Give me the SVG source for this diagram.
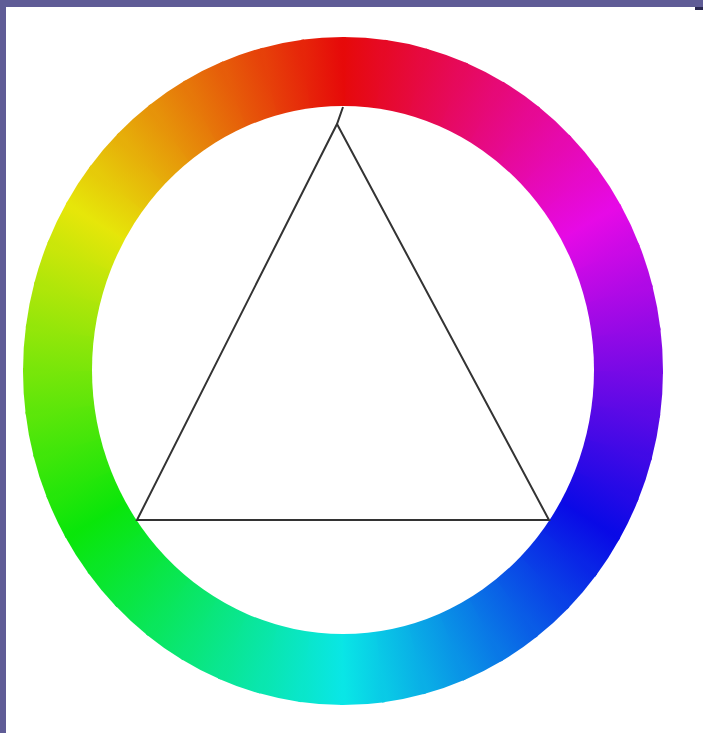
<svg xmlns="http://www.w3.org/2000/svg" width="703" height="733" viewBox="0 0 703 733">
<style>
.frame{fill:#5f5c96}
.edge{fill:none;stroke:#333;stroke-width:2;stroke-linejoin:miter}
</style>
<defs>
<path id="w" d="M0 0L0 -1A1 1 0 0 1 0.139173 -0.990268Z"/>
<linearGradient id="g0" gradientUnits="userSpaceOnUse" x1="0" y1="-0.895" x2="0.116821" y2="-0.887343"><stop offset="0" stop-color="hsl(360,92%,47%)"/><stop offset="1" stop-color="hsl(352.5,92%,47%)"/></linearGradient>
<linearGradient id="g1" gradientUnits="userSpaceOnUse" x1="0" y1="-0.895" x2="0.116821" y2="-0.887343"><stop offset="0" stop-color="hsl(352.5,92%,47%)"/><stop offset="1" stop-color="hsl(345,92%,47%)"/></linearGradient>
<linearGradient id="g2" gradientUnits="userSpaceOnUse" x1="0" y1="-0.895" x2="0.116821" y2="-0.887343"><stop offset="0" stop-color="hsl(345,92%,47%)"/><stop offset="1" stop-color="hsl(337.5,92%,47%)"/></linearGradient>
<linearGradient id="g3" gradientUnits="userSpaceOnUse" x1="0" y1="-0.895" x2="0.116821" y2="-0.887343"><stop offset="0" stop-color="hsl(337.5,92%,47%)"/><stop offset="1" stop-color="hsl(330,92%,47%)"/></linearGradient>
<linearGradient id="g4" gradientUnits="userSpaceOnUse" x1="0" y1="-0.895" x2="0.116821" y2="-0.887343"><stop offset="0" stop-color="hsl(330,92%,47%)"/><stop offset="1" stop-color="hsl(322.5,92%,47%)"/></linearGradient>
<linearGradient id="g5" gradientUnits="userSpaceOnUse" x1="0" y1="-0.895" x2="0.116821" y2="-0.887343"><stop offset="0" stop-color="hsl(322.5,92%,47%)"/><stop offset="1" stop-color="hsl(315,92%,47%)"/></linearGradient>
<linearGradient id="g6" gradientUnits="userSpaceOnUse" x1="0" y1="-0.895" x2="0.116821" y2="-0.887343"><stop offset="0" stop-color="hsl(315,92%,47%)"/><stop offset="1" stop-color="hsl(307.5,92%,47%)"/></linearGradient>
<linearGradient id="g7" gradientUnits="userSpaceOnUse" x1="0" y1="-0.895" x2="0.116821" y2="-0.887343"><stop offset="0" stop-color="hsl(307.5,92%,47%)"/><stop offset="1" stop-color="hsl(300,92%,47%)"/></linearGradient>
<linearGradient id="g8" gradientUnits="userSpaceOnUse" x1="0" y1="-0.895" x2="0.116821" y2="-0.887343"><stop offset="0" stop-color="hsl(300,92%,47%)"/><stop offset="1" stop-color="hsl(292.5,92%,47%)"/></linearGradient>
<linearGradient id="g9" gradientUnits="userSpaceOnUse" x1="0" y1="-0.895" x2="0.116821" y2="-0.887343"><stop offset="0" stop-color="hsl(292.5,92%,47%)"/><stop offset="1" stop-color="hsl(285,92%,47%)"/></linearGradient>
<linearGradient id="g10" gradientUnits="userSpaceOnUse" x1="0" y1="-0.895" x2="0.116821" y2="-0.887343"><stop offset="0" stop-color="hsl(285,92%,47%)"/><stop offset="1" stop-color="hsl(277.5,92%,47%)"/></linearGradient>
<linearGradient id="g11" gradientUnits="userSpaceOnUse" x1="0" y1="-0.895" x2="0.116821" y2="-0.887343"><stop offset="0" stop-color="hsl(277.5,92%,47%)"/><stop offset="1" stop-color="hsl(270,92%,47%)"/></linearGradient>
<linearGradient id="g12" gradientUnits="userSpaceOnUse" x1="0" y1="-0.895" x2="0.116821" y2="-0.887343"><stop offset="0" stop-color="hsl(270,92%,47%)"/><stop offset="1" stop-color="hsl(262.5,92%,47%)"/></linearGradient>
<linearGradient id="g13" gradientUnits="userSpaceOnUse" x1="0" y1="-0.895" x2="0.116821" y2="-0.887343"><stop offset="0" stop-color="hsl(262.5,92%,47%)"/><stop offset="1" stop-color="hsl(255,92%,47%)"/></linearGradient>
<linearGradient id="g14" gradientUnits="userSpaceOnUse" x1="0" y1="-0.895" x2="0.116821" y2="-0.887343"><stop offset="0" stop-color="hsl(255,92%,47%)"/><stop offset="1" stop-color="hsl(247.5,92%,47%)"/></linearGradient>
<linearGradient id="g15" gradientUnits="userSpaceOnUse" x1="0" y1="-0.895" x2="0.116821" y2="-0.887343"><stop offset="0" stop-color="hsl(247.5,92%,47%)"/><stop offset="1" stop-color="hsl(240,92%,47%)"/></linearGradient>
<linearGradient id="g16" gradientUnits="userSpaceOnUse" x1="0" y1="-0.895" x2="0.116821" y2="-0.887343"><stop offset="0" stop-color="hsl(240,92%,47%)"/><stop offset="1" stop-color="hsl(232.5,92%,47%)"/></linearGradient>
<linearGradient id="g17" gradientUnits="userSpaceOnUse" x1="0" y1="-0.895" x2="0.116821" y2="-0.887343"><stop offset="0" stop-color="hsl(232.5,92%,47%)"/><stop offset="1" stop-color="hsl(225,92%,47%)"/></linearGradient>
<linearGradient id="g18" gradientUnits="userSpaceOnUse" x1="0" y1="-0.895" x2="0.116821" y2="-0.887343"><stop offset="0" stop-color="hsl(225,92%,47%)"/><stop offset="1" stop-color="hsl(217.5,92%,47%)"/></linearGradient>
<linearGradient id="g19" gradientUnits="userSpaceOnUse" x1="0" y1="-0.895" x2="0.116821" y2="-0.887343"><stop offset="0" stop-color="hsl(217.5,92%,47%)"/><stop offset="1" stop-color="hsl(210,92%,47%)"/></linearGradient>
<linearGradient id="g20" gradientUnits="userSpaceOnUse" x1="0" y1="-0.895" x2="0.116821" y2="-0.887343"><stop offset="0" stop-color="hsl(210,92%,47%)"/><stop offset="1" stop-color="hsl(202.5,92%,47%)"/></linearGradient>
<linearGradient id="g21" gradientUnits="userSpaceOnUse" x1="0" y1="-0.895" x2="0.116821" y2="-0.887343"><stop offset="0" stop-color="hsl(202.5,92%,47%)"/><stop offset="1" stop-color="hsl(195,92%,47%)"/></linearGradient>
<linearGradient id="g22" gradientUnits="userSpaceOnUse" x1="0" y1="-0.895" x2="0.116821" y2="-0.887343"><stop offset="0" stop-color="hsl(195,92%,47%)"/><stop offset="1" stop-color="hsl(187.5,92%,47%)"/></linearGradient>
<linearGradient id="g23" gradientUnits="userSpaceOnUse" x1="0" y1="-0.895" x2="0.116821" y2="-0.887343"><stop offset="0" stop-color="hsl(187.5,92%,47%)"/><stop offset="1" stop-color="hsl(180,92%,47%)"/></linearGradient>
<linearGradient id="g24" gradientUnits="userSpaceOnUse" x1="0" y1="-0.895" x2="0.116821" y2="-0.887343"><stop offset="0" stop-color="hsl(180,92%,47%)"/><stop offset="1" stop-color="hsl(172.5,92%,47%)"/></linearGradient>
<linearGradient id="g25" gradientUnits="userSpaceOnUse" x1="0" y1="-0.895" x2="0.116821" y2="-0.887343"><stop offset="0" stop-color="hsl(172.5,92%,47%)"/><stop offset="1" stop-color="hsl(165,92%,47%)"/></linearGradient>
<linearGradient id="g26" gradientUnits="userSpaceOnUse" x1="0" y1="-0.895" x2="0.116821" y2="-0.887343"><stop offset="0" stop-color="hsl(165,92%,47%)"/><stop offset="1" stop-color="hsl(157.5,92%,47%)"/></linearGradient>
<linearGradient id="g27" gradientUnits="userSpaceOnUse" x1="0" y1="-0.895" x2="0.116821" y2="-0.887343"><stop offset="0" stop-color="hsl(157.5,92%,47%)"/><stop offset="1" stop-color="hsl(150,92%,47%)"/></linearGradient>
<linearGradient id="g28" gradientUnits="userSpaceOnUse" x1="0" y1="-0.895" x2="0.116821" y2="-0.887343"><stop offset="0" stop-color="hsl(150,92%,47%)"/><stop offset="1" stop-color="hsl(142.5,92%,47%)"/></linearGradient>
<linearGradient id="g29" gradientUnits="userSpaceOnUse" x1="0" y1="-0.895" x2="0.116821" y2="-0.887343"><stop offset="0" stop-color="hsl(142.5,92%,47%)"/><stop offset="1" stop-color="hsl(135,92%,47%)"/></linearGradient>
<linearGradient id="g30" gradientUnits="userSpaceOnUse" x1="0" y1="-0.895" x2="0.116821" y2="-0.887343"><stop offset="0" stop-color="hsl(135,92%,47%)"/><stop offset="1" stop-color="hsl(127.5,92%,47%)"/></linearGradient>
<linearGradient id="g31" gradientUnits="userSpaceOnUse" x1="0" y1="-0.895" x2="0.116821" y2="-0.887343"><stop offset="0" stop-color="hsl(127.5,92%,47%)"/><stop offset="1" stop-color="hsl(120,92%,47%)"/></linearGradient>
<linearGradient id="g32" gradientUnits="userSpaceOnUse" x1="0" y1="-0.895" x2="0.116821" y2="-0.887343"><stop offset="0" stop-color="hsl(120,92%,47%)"/><stop offset="1" stop-color="hsl(112.5,92%,47%)"/></linearGradient>
<linearGradient id="g33" gradientUnits="userSpaceOnUse" x1="0" y1="-0.895" x2="0.116821" y2="-0.887343"><stop offset="0" stop-color="hsl(112.5,92%,47%)"/><stop offset="1" stop-color="hsl(105,92%,47%)"/></linearGradient>
<linearGradient id="g34" gradientUnits="userSpaceOnUse" x1="0" y1="-0.895" x2="0.116821" y2="-0.887343"><stop offset="0" stop-color="hsl(105,92%,47%)"/><stop offset="1" stop-color="hsl(97.5,92%,47%)"/></linearGradient>
<linearGradient id="g35" gradientUnits="userSpaceOnUse" x1="0" y1="-0.895" x2="0.116821" y2="-0.887343"><stop offset="0" stop-color="hsl(97.5,92%,47%)"/><stop offset="1" stop-color="hsl(90,92%,47%)"/></linearGradient>
<linearGradient id="g36" gradientUnits="userSpaceOnUse" x1="0" y1="-0.895" x2="0.116821" y2="-0.887343"><stop offset="0" stop-color="hsl(90,92%,47%)"/><stop offset="1" stop-color="hsl(82.5,92%,47%)"/></linearGradient>
<linearGradient id="g37" gradientUnits="userSpaceOnUse" x1="0" y1="-0.895" x2="0.116821" y2="-0.887343"><stop offset="0" stop-color="hsl(82.5,92%,47%)"/><stop offset="1" stop-color="hsl(75,92%,47%)"/></linearGradient>
<linearGradient id="g38" gradientUnits="userSpaceOnUse" x1="0" y1="-0.895" x2="0.116821" y2="-0.887343"><stop offset="0" stop-color="hsl(75,92%,47%)"/><stop offset="1" stop-color="hsl(67.5,92%,47%)"/></linearGradient>
<linearGradient id="g39" gradientUnits="userSpaceOnUse" x1="0" y1="-0.895" x2="0.116821" y2="-0.887343"><stop offset="0" stop-color="hsl(67.5,92%,47%)"/><stop offset="1" stop-color="hsl(60,92%,47%)"/></linearGradient>
<linearGradient id="g40" gradientUnits="userSpaceOnUse" x1="0" y1="-0.895" x2="0.116821" y2="-0.887343"><stop offset="0" stop-color="hsl(60,92%,47%)"/><stop offset="1" stop-color="hsl(52.5,92%,47%)"/></linearGradient>
<linearGradient id="g41" gradientUnits="userSpaceOnUse" x1="0" y1="-0.895" x2="0.116821" y2="-0.887343"><stop offset="0" stop-color="hsl(52.5,92%,47%)"/><stop offset="1" stop-color="hsl(45,92%,47%)"/></linearGradient>
<linearGradient id="g42" gradientUnits="userSpaceOnUse" x1="0" y1="-0.895" x2="0.116821" y2="-0.887343"><stop offset="0" stop-color="hsl(45,92%,47%)"/><stop offset="1" stop-color="hsl(37.5,92%,47%)"/></linearGradient>
<linearGradient id="g43" gradientUnits="userSpaceOnUse" x1="0" y1="-0.895" x2="0.116821" y2="-0.887343"><stop offset="0" stop-color="hsl(37.5,92%,47%)"/><stop offset="1" stop-color="hsl(30,92%,47%)"/></linearGradient>
<linearGradient id="g44" gradientUnits="userSpaceOnUse" x1="0" y1="-0.895" x2="0.116821" y2="-0.887343"><stop offset="0" stop-color="hsl(30,92%,47%)"/><stop offset="1" stop-color="hsl(22.5,92%,47%)"/></linearGradient>
<linearGradient id="g45" gradientUnits="userSpaceOnUse" x1="0" y1="-0.895" x2="0.116821" y2="-0.887343"><stop offset="0" stop-color="hsl(22.5,92%,47%)"/><stop offset="1" stop-color="hsl(15,92%,47%)"/></linearGradient>
<linearGradient id="g46" gradientUnits="userSpaceOnUse" x1="0" y1="-0.895" x2="0.116821" y2="-0.887343"><stop offset="0" stop-color="hsl(15,92%,47%)"/><stop offset="1" stop-color="hsl(7.5,92%,47%)"/></linearGradient>
<linearGradient id="g47" gradientUnits="userSpaceOnUse" x1="0" y1="-0.895" x2="0.116821" y2="-0.887343"><stop offset="0" stop-color="hsl(7.5,92%,47%)"/><stop offset="1" stop-color="hsl(0,92%,47%)"/></linearGradient>
</defs>
<rect x="0" y="0" width="703" height="733" fill="#fff"/>
<g id="frame">
<rect class="frame" x="0" y="0" width="703" height="7"/>
<rect class="frame" x="0" y="0" width="6" height="733"/>
<rect x="695" y="7" width="8" height="3" fill="#2a2850"/>
</g>
<g id="wheel">
<g transform="translate(343 371) scale(320 334)">
<use href="#w" fill="url(#g0)"/>
<use href="#w" transform="rotate(7.5)" fill="url(#g1)"/>
<use href="#w" transform="rotate(15)" fill="url(#g2)"/>
<use href="#w" transform="rotate(22.5)" fill="url(#g3)"/>
<use href="#w" transform="rotate(30)" fill="url(#g4)"/>
<use href="#w" transform="rotate(37.5)" fill="url(#g5)"/>
<use href="#w" transform="rotate(45)" fill="url(#g6)"/>
<use href="#w" transform="rotate(52.5)" fill="url(#g7)"/>
<use href="#w" transform="rotate(60)" fill="url(#g8)"/>
<use href="#w" transform="rotate(67.5)" fill="url(#g9)"/>
<use href="#w" transform="rotate(75)" fill="url(#g10)"/>
<use href="#w" transform="rotate(82.5)" fill="url(#g11)"/>
<use href="#w" transform="rotate(90)" fill="url(#g12)"/>
<use href="#w" transform="rotate(97.5)" fill="url(#g13)"/>
<use href="#w" transform="rotate(105)" fill="url(#g14)"/>
<use href="#w" transform="rotate(112.5)" fill="url(#g15)"/>
<use href="#w" transform="rotate(120)" fill="url(#g16)"/>
<use href="#w" transform="rotate(127.5)" fill="url(#g17)"/>
<use href="#w" transform="rotate(135)" fill="url(#g18)"/>
<use href="#w" transform="rotate(142.5)" fill="url(#g19)"/>
<use href="#w" transform="rotate(150)" fill="url(#g20)"/>
<use href="#w" transform="rotate(157.5)" fill="url(#g21)"/>
<use href="#w" transform="rotate(165)" fill="url(#g22)"/>
<use href="#w" transform="rotate(172.5)" fill="url(#g23)"/>
<use href="#w" transform="rotate(180)" fill="url(#g24)"/>
<use href="#w" transform="rotate(187.5)" fill="url(#g25)"/>
<use href="#w" transform="rotate(195)" fill="url(#g26)"/>
<use href="#w" transform="rotate(202.5)" fill="url(#g27)"/>
<use href="#w" transform="rotate(210)" fill="url(#g28)"/>
<use href="#w" transform="rotate(217.5)" fill="url(#g29)"/>
<use href="#w" transform="rotate(225)" fill="url(#g30)"/>
<use href="#w" transform="rotate(232.5)" fill="url(#g31)"/>
<use href="#w" transform="rotate(240)" fill="url(#g32)"/>
<use href="#w" transform="rotate(247.5)" fill="url(#g33)"/>
<use href="#w" transform="rotate(255)" fill="url(#g34)"/>
<use href="#w" transform="rotate(262.5)" fill="url(#g35)"/>
<use href="#w" transform="rotate(270)" fill="url(#g36)"/>
<use href="#w" transform="rotate(277.5)" fill="url(#g37)"/>
<use href="#w" transform="rotate(285)" fill="url(#g38)"/>
<use href="#w" transform="rotate(292.5)" fill="url(#g39)"/>
<use href="#w" transform="rotate(300)" fill="url(#g40)"/>
<use href="#w" transform="rotate(307.5)" fill="url(#g41)"/>
<use href="#w" transform="rotate(315)" fill="url(#g42)"/>
<use href="#w" transform="rotate(322.5)" fill="url(#g43)"/>
<use href="#w" transform="rotate(330)" fill="url(#g44)"/>
<use href="#w" transform="rotate(337.5)" fill="url(#g45)"/>
<use href="#w" transform="rotate(345)" fill="url(#g46)"/>
<use href="#w" transform="rotate(352.5)" fill="url(#g47)"/>
</g>
<ellipse cx="343" cy="370" rx="251" ry="264" fill="#fff"/>
</g>
<g id="triangle">
<polyline class="edge" points="343,107 337,124 137,520 549,520 337,124"/>
</g>
</svg>
